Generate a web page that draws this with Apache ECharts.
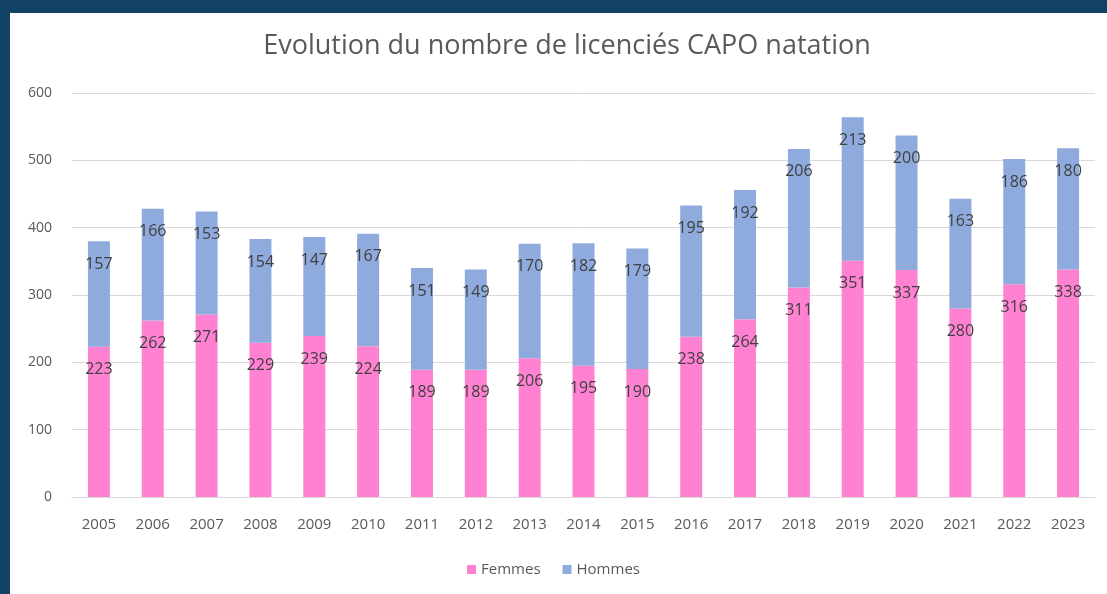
<!DOCTYPE html>
<html>
<head>
<meta charset="utf-8">
<script src="https://cdn.jsdelivr.net/npm/echarts@6/dist/echarts.min.js"></script>
<style>
html,body{margin:0;padding:0;background:#124366;}
#c{width:1107px;height:594px;}
</style>
</head>
<body>
<div id="c"></div>
<script>
const years = ['2005','2006','2007','2008','2009','2010','2011','2012','2013','2014','2015','2016','2017','2018','2019','2020','2021','2022','2023'];
const femmes = [223,262,271,229,239,224,189,189,206,195,190,238,264,311,351,337,280,316,338];
const hommes = [157,166,153,154,147,167,151,149,170,182,179,195,192,206,213,200,163,186,180];
const titleText = 'Evolution du nombre de licenciés CAPO natation';
const seriesNames = ['Femmes','Hommes'];

const chart = echarts.init(document.getElementById('c'));
const font = '"Open Sans", sans-serif';
const labelCfg = {show:true, position:'insideTop', distance:15, color:'#404040', fontSize:16, fontFamily:font};
chart.setOption({
  backgroundColor:'#124366',
  animation:false,
  graphic:[{type:'rect', left:10, top:13, shape:{width:1097, height:581}, style:{fill:'#ffffff'}, z:-10}],
  title:{text:titleText, left:562, textAlign:'center', top:28, textStyle:{fontFamily:font, fontSize:27, fontWeight:'normal', color:'#595959'}},
  legend:{data:seriesNames, bottom:12, left:'center', itemWidth:9, itemHeight:9, itemGap:22, icon:'rect',
    textStyle:{fontFamily:font, fontSize:15, color:'#595959'}},
  grid:{left:72, right:12, top:93, bottom:97},
  xAxis:{type:'category', data:years,
    axisLine:{lineStyle:{color:'#d9d9d9'}}, axisTick:{show:false},
    axisLabel:{color:'#595959', fontSize:15, fontFamily:font, margin:20}},
  yAxis:{type:'value', min:0, max:600, interval:100,
    axisLine:{show:false}, axisTick:{show:false},
    splitLine:{lineStyle:{color:'#d9d9d9'}},
    axisLabel:{color:'#595959', fontSize:14, fontFamily:font, margin:20}},
  series:[
    {name:seriesNames[0], type:'bar', stack:'t', data:femmes, barWidth:22, itemStyle:{color:'#FF82D2'}, label:labelCfg},
    {name:seriesNames[1], type:'bar', stack:'t', data:hommes, barWidth:22, itemStyle:{color:'#8FAADC'}, label:labelCfg}
  ]
});
</script>
</body>
</html>
